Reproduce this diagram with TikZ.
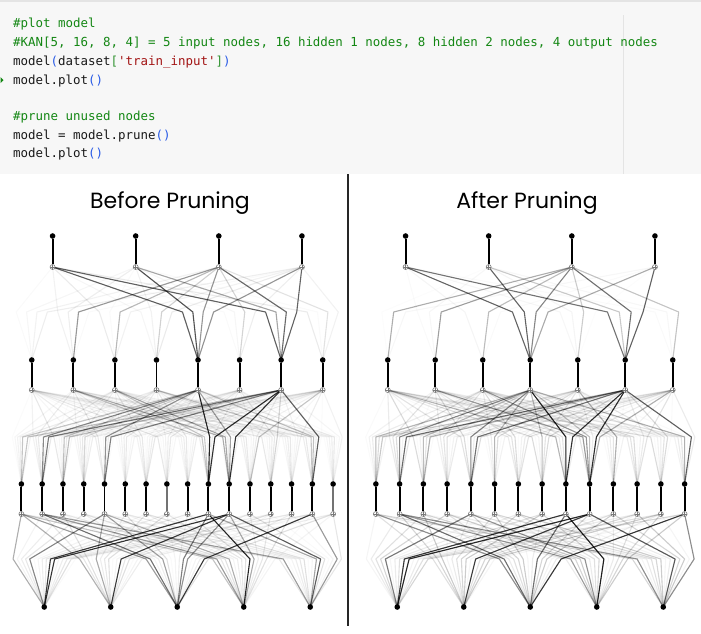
\documentclass[tikz,border=0pt]{standalone}
\usepackage{fontspec}
\newfontfamily\codefont{DejaVu Sans Mono}
\newfontfamily\titlefont{Poppins}
\definecolor{codebg}{RGB}{247,247,247}
\definecolor{codeedge}{RGB}{228,228,228}
\definecolor{cmtgreen}{RGB}{20,135,20}
\definecolor{parblue}{RGB}{40,90,230}
\definecolor{brkgreen}{RGB}{49,147,49}
\definecolor{strred}{RGB}{163,21,21}
\definecolor{codeink}{RGB}{25,25,25}
\definecolor{sumgray}{RGB}{120,120,120}

\pgfdeclarelayer{paper}
\pgfdeclarelayer{edgelayer}
\pgfsetlayers{paper,edgelayer,main}

% one row of KAN nodes: dot #1-k, sum symbol #2-k below it, joined by a stem
% #3 count, #4 panel left edge, #5 dot y, #6 sum y, #7 stem darkness (pgfmath in \k)
\newcommand\kannodes[7]{%
  \pgfmathtruncatemacro\kann{#3-1}%
  \foreach \k in {0,...,\kann}{%
    \pgfmathsetmacro\kanx{#4+(\k+0.5)/#3*332.5}%
    \pgfmathtruncatemacro\kanst{#7}%
    \node[dot] (#1-\k) at (\kanx,#5) {};
    \node[sumnode] (#2-\k) at (\kanx,#6) {};
    \draw[stem,draw=black!\kanst] (#1-\k) -- (#2-\k);
  }%
}
% all connectors between a lower row #1 (#3 nodes) and an upper sum row #2 (#4 nodes);
% each one bends at the activation point at height #6; #5 panel left edge,
% #7 base opacity, #8 opacity spread
\newcommand\kanfan[8]{%
  \pgfmathtruncatemacro\kanlo{#3-1}%
  \pgfmathtruncatemacro\kanup{#4-1}%
  \foreach \i in {0,...,\kanlo}{%
    \foreach \j in {0,...,\kanup}{%
      \pgfmathsetmacro\kanbx{#5+(\i*#4+\j+0.5)/(#3*#4)*332.5}%
      \pgfmathsetmacro\kanop{#7+#8*mod(\i*7+\j*11,5)/4}%
      \coordinate (#1-\i-#2-\j) at (\kanbx,#6);
      \draw[edge,draw opacity=\kanop] (#1-\i.center) -- (#1-\i-#2-\j) -- (#2-\j.center);
    }%
  }%
}
% the strong connectors of a layer, given as lower/upper/opacity
\newcommand\kanstrong[3]{%
  \foreach \i/\j/\s in {#3}{%
    \draw[edge,draw opacity=\s] (#1-\i.center) -- (#1-\i-#2-\j) -- (#2-\j.center);
  }%
}

\begin{document}
\begin{tikzpicture}[x=1pt,y=-1pt,
  dot/.style={circle,fill=black,inner sep=0pt,minimum size=5.6pt},
  sumnode/.style={circle,draw=sumgray,fill=white,line width=0.6pt,inner sep=0pt,minimum size=5pt,
    path picture={\draw[sumgray,line width=0.45pt]
      (path picture bounding box.north) -- (path picture bounding box.south)
      (path picture bounding box.west) -- (path picture bounding box.east);}},
  stem/.style={line width=1.9pt},
  edge/.style={draw=black,line width=1.1pt,line join=round},
  codeline/.style={anchor=base west,inner sep=0pt,text=codeink,
    font=\codefont\fontsize{12.45}{15}\selectfont},
  title/.style={anchor=base,inner sep=0pt,font=\titlefont\fontsize{22}{26}\selectfont}]
\useasboundingbox (0,0) rectangle (701,633);
\begin{pgfonlayer}{paper}
\fill[white] (0,0) rectangle (701,633);
% code cell
\fill[codebg] (0,0) rectangle (701,174);
\draw[codeedge,line width=1.5pt] (0,1) -- (701,1);
\draw[codeedge,line width=0.8pt] (623,15) -- (623,174);
\end{pgfonlayer}

\fill[cmtgreen] (0.5,77) -- (3.5,80) -- (0.5,83) -- cycle;
\node[codeline] (c1) at (13,27.3) {\textcolor{cmtgreen}{\#plot model}};
\node[codeline] (c2) at (13,46) {\textcolor{cmtgreen}{\#KAN[5, 16, 8, 4] = 5 input nodes, 16 hidden 1 nodes, 8 hidden 2 nodes, 4 output nodes}};
\node[codeline] (c3) at (13,65) {model\textcolor{parblue}{(}dataset\textcolor{brkgreen}{[}\textcolor{strred}{\textquotesingle{}train\_input\textquotesingle{}}\textcolor{brkgreen}{]}\textcolor{parblue}{)}};
\node[codeline] (c4) at (13,84) {model.plot\textcolor{parblue}{()}};
\node[codeline] (c5) at (13,120) {\textcolor{cmtgreen}{\#prune unused nodes}};
\node[codeline] (c6) at (13,139) {model = model.prune\textcolor{parblue}{()}};
\node[codeline] (c7) at (13,157.5) {model.plot\textcolor{parblue}{()}};

% panel divider and titles
\draw[black!85,line width=1.6pt] (348,174) -- (348,626);
\node[title] (tbefore) at (170,208) {Before Pruning};
\node[title] (tafter) at (527,208) {After Pruning};

% ---------- before pruning: KAN[5,16,8,4] ----------
\kannodes{L-o}{L-os}{4}{11}{236}{267}{100}
\kannodes{L-h2}{L-h2s}{8}{11}{360}{390}{100}
\kannodes{L-h1}{L-h1s}{16}{11}{484}{514}{(\k==7||\k==15)?55:100}
\foreach \k in {0,...,4}{\node[dot] (L-in-\k) at ({11+(\k+0.5)*66.5},607) {};}

\begin{pgfonlayer}{edgelayer}
\kanfan{L-h2}{L-os}{8}{4}{11}{312}{0.02}{0.06}
\kanfan{L-h1}{L-h2s}{16}{8}{11}{437}{0.015}{0.075}
\kanfan{L-in}{L-h1s}{5}{16}{11}{559}{0.02}{0.1}
\kanstrong{L-h2}{L-os}{4/0/0.6, 6/0/0.6, 4/1/0.65, 4/2/0.4, 6/2/0.55, 6/3/0.6, 4/3/0.4,
  1/2/0.35, 2/2/0.25, 3/2/0.12, 5/2/0.12, 6/1/0.3, 7/2/0.08}
\kanstrong{L-h1}{L-h2s}{9/4/0.85, 9/6/0.8, 10/6/0.8, 14/6/0.6, 1/4/0.45, 1/6/0.5, 4/4/0.4,
  4/6/0.45, 2/4/0.2, 10/1/0.3, 10/2/0.3, 10/4/0.3, 11/7/0.15, 3/4/0.15, 9/2/0.2, 14/4/0.2,
  12/6/0.15, 0/6/0.2, 2/6/0.25, 14/3/0.2, 0/4/0.15, 9/1/0.15}
\kanstrong{L-in}{L-h1s}{3/9/0.85, 0/9/0.75, 0/10/0.8, 1/10/0.75, 2/14/0.75, 2/1/0.55, 3/1/0.35,
  0/4/0.4, 4/10/0.6, 2/9/0.45, 2/10/0.35, 4/14/0.35, 2/4/0.3, 1/4/0.3, 3/4/0.3, 0/0/0.3,
  1/0/0.25, 3/10/0.3, 4/9/0.3, 2/0/0.3, 4/1/0.3, 3/0/0.2}
\end{pgfonlayer}

% ---------- after pruning: KAN[5,14,7,4] ----------
\kannodes{R-o}{R-os}{4}{364}{236}{267}{100}
\kannodes{R-h2}{R-h2s}{7}{364}{360}{390}{100}
\kannodes{R-h1}{R-h1s}{14}{364}{484}{514}{100}
\foreach \k in {0,...,4}{\node[dot] (R-in-\k) at ({364+(\k+0.5)*66.5},607) {};}

\begin{pgfonlayer}{edgelayer}
\kanfan{R-h2}{R-os}{7}{4}{364}{312}{0.0}{0.04}
\kanfan{R-h1}{R-h2s}{14}{7}{364}{437}{0.02}{0.12}
\kanfan{R-in}{R-h1s}{5}{14}{364}{559}{0.04}{0.16}
\kanstrong{R-h2}{R-os}{3/0/0.6, 5/0/0.55, 3/1/0.6, 0/2/0.3, 1/2/0.35, 2/2/0.25, 3/2/0.45,
  4/2/0.2, 5/2/0.55, 6/2/0.2, 3/3/0.3, 5/3/0.6, 5/1/0.2}
\kanstrong{R-h1}{R-h2s}{8/3/0.85, 8/5/0.8, 9/5/0.8, 13/5/0.6, 1/5/0.55, 1/3/0.45, 4/3/0.45,
  4/5/0.5, 0/3/0.2, 2/3/0.2, 5/3/0.2, 7/3/0.2, 9/3/0.2, 13/3/0.2, 8/0/0.25, 9/1/0.3, 9/2/0.4,
  0/5/0.2, 2/5/0.2, 9/6/0.2, 10/4/0.2}
\kanstrong{R-in}{R-h1s}{3/8/0.85, 0/8/0.75, 0/9/0.8, 1/9/0.75, 2/13/0.75, 2/1/0.55, 3/1/0.3,
  0/4/0.4, 3/4/0.4, 4/9/0.6, 2/8/0.5, 4/13/0.4, 2/0/0.3, 4/1/0.3}
\end{pgfonlayer}
\end{tikzpicture}
\end{document}
